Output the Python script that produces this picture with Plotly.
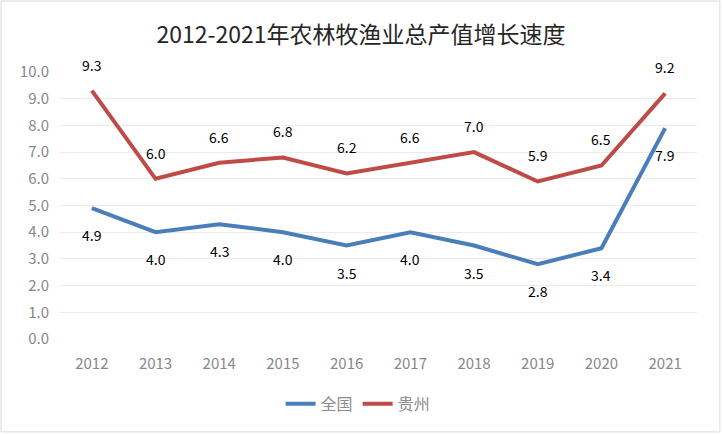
import plotly.graph_objects as go

years = ["2012", "2013", "2014", "2015", "2016", "2017", "2018", "2019", "2020", "2021"]
quanguo = [4.9, 4.0, 4.3, 4.0, 3.5, 4.0, 3.5, 2.8, 3.4, 7.9]
guizhou = [9.3, 6.0, 6.6, 6.8, 6.2, 6.6, 7.0, 5.9, 6.5, 9.2]
y_ticks = [0, 1, 2, 3, 4, 5, 6, 7, 8, 9, 10]

font_family = "Noto Sans CJK SC, Noto Sans, sans-serif"
BLUE = "#4A7EBB"
RED = "#BE4B48"

fig = go.Figure()
fig.add_trace(go.Scatter(x=years, y=quanguo, name="全国", mode="lines",
                         line=dict(color=BLUE, width=4)))
fig.add_trace(go.Scatter(x=years, y=guizhou, name="贵州", mode="lines",
                         line=dict(color=RED, width=4)))

annotations = []
for i, v in enumerate(quanguo):
    annotations.append(dict(x=i, y=v, xref="x", yref="y", text=f"{v:.1f}",
                            showarrow=False, yshift=-27,
                            font=dict(size=14, color="#000000")))
for i, v in enumerate(guizhou):
    annotations.append(dict(x=i, y=v, xref="x", yref="y", text=f"{v:.1f}",
                            showarrow=False, yshift=26,
                            font=dict(size=14, color="#000000")))

fig.update_layout(
    width=722, height=434,
    margin=dict(l=60, r=25, t=72, b=95),
    paper_bgcolor="white", plot_bgcolor="white",
    font=dict(family=font_family),
    title=dict(text="2012-2021年农林牧渔业总产值增长速度", x=0.5, xanchor="center",
               y=0.919, yanchor="middle", font=dict(size=23, color="#262626")),
    showlegend=True,
    legend=dict(orientation="h", x=0.468, xanchor="center", y=-0.243, yanchor="middle",
                font=dict(size=16, color="#8C8C8C")),
    xaxis=dict(type="category", range=[-0.5, 9.5], showgrid=False, showline=False,
               ticks="", ticklabelstandoff=14, tickfont=dict(size=15, color="#888888")),
    yaxis=dict(range=[0, 10], tickvals=y_ticks, ticktext=[f"{v:.1f}" for v in y_ticks],
               showgrid=True, gridcolor="#EBEBEB", zeroline=False, showline=False,
               ticks="", ticklabelstandoff=10, tickfont=dict(size=15, color="#888888")),
    annotations=annotations,
    shapes=[dict(type="rect", xref="paper", yref="paper", x0=-0.0926, x1=1.036,
                 y0=-0.348, y1=1.266, line=dict(color="#D9D9D9", width=1))],
)

fig.write_html("out.html", config={"displayModeBar": False},
               post_script="document.body.style.margin='0';")
